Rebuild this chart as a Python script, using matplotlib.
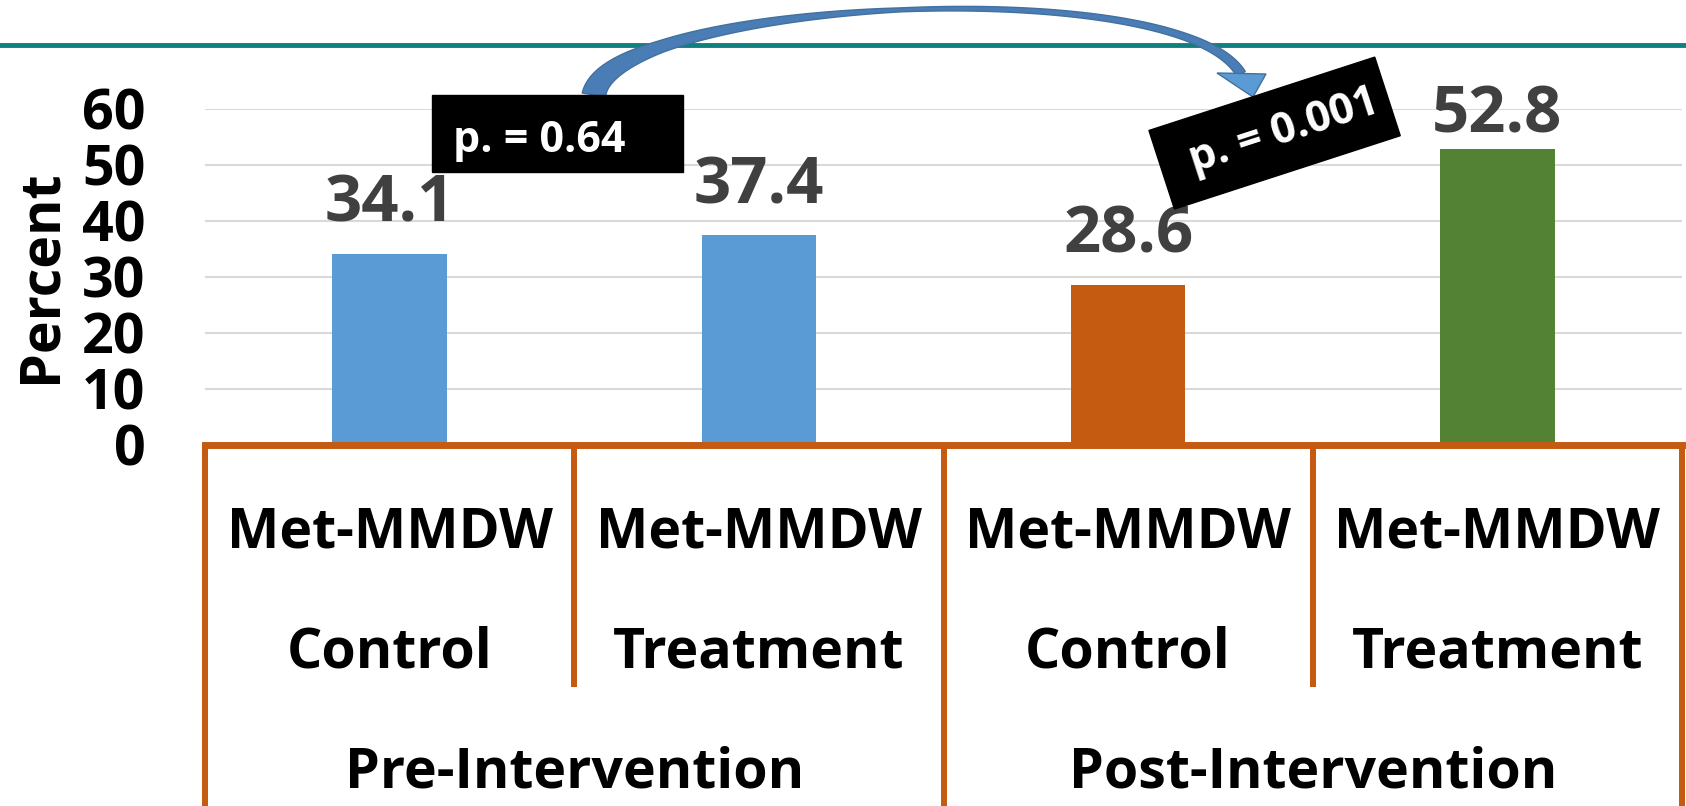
import numpy as np
import matplotlib
matplotlib.use('Agg')
import matplotlib.pyplot as plt
from matplotlib.patches import Rectangle, Polygon
from matplotlib.transforms import blended_transform_factory

plt.rcParams['font.family'] = ['Open Sans', 'DejaVu Sans']
plt.rcParams['font.weight'] = 'bold'

# data
product = 'Met-MMDW'
arms = ['Control', 'Treatment', 'Control', 'Treatment']
groups = ['Pre-Intervention', 'Post-Intervention']
values = [34.1, 37.4, 28.6, 52.8]
bar_colors = ['#5B9BD5', '#5B9BD5', '#C55A11', '#548235']
p_values = ['p. = 0.64', 'p. = 0.001']
yticks = [0, 10, 20, 30, 40, 50, 60]

ORANGE = '#C55A11'
W, H = 1686, 806

fig = plt.figure(figsize=(W / 100, H / 100), dpi=100)
ax = fig.add_axes([205 / W, 1 - 444.7 / H, 1477 / W, 336 / H])
over = fig.add_axes([0, 0, 1, 1])
over.set_xlim(0, W)
over.set_ylim(H, 0)
over.axis('off')

x = np.arange(len(values))
ax.bar(x, values, width=0.31, color=bar_colors, zorder=2)
ax.set_xlim(-0.5, len(values) - 0.5)
ax.set_ylim(0, 60)
ax.set_yticks(yticks)
ax.set_yticklabels([str(t) for t in yticks], fontsize=40, fontweight='bold')
ax.tick_params(axis='y', length=0, pad=43)
ax.set_xticks([])
ax.grid(axis='y', color='#D9D9D9', lw=1.5, zorder=0)
for s in ['left', 'right', 'top']:
    ax.spines[s].set_visible(False)
ax.spines['bottom'].set_color(ORANGE)
ax.spines['bottom'].set_linewidth(5)
ax.spines['bottom'].set_zorder(3)

ax.text(41, 276, 'Percent', transform=over.transData, rotation=90,
        ha='center', va='center', fontsize=40, fontweight='bold')

# value labels
label_off = [23, 23, 23, 12]
for xi, v, off in zip(x, values, label_off):
    ax.annotate(f'{v}', (xi, v), xytext=(0, off), textcoords='offset points',
                ha='center', va='baseline', fontsize=47, fontweight='bold',
                color='#404040')

# category table under the axis
trans = blended_transform_factory(ax.transData, over.transData)
edges = np.arange(len(values) + 1) - 0.5
for i, e in enumerate(edges):
    bottom = H if i % 2 == 0 else 687
    ax.plot([e, e], [444.7, bottom], transform=trans, color=ORANGE, lw=4.3,
            clip_on=False, solid_capstyle='butt')
for xi, arm in zip(x, arms):
    ax.text(xi, 547, product, transform=trans, ha='center', va='baseline',
            fontsize=40, fontweight='bold')
    ax.text(xi, 668, arm, transform=trans, ha='center', va='baseline',
            fontsize=40, fontweight='bold')
for gi, g in enumerate(groups):
    ax.text(2 * gi + 0.5, 788, g, transform=trans, ha='center', va='baseline',
            fontsize=40, fontweight='bold')

# teal rule at the top
over.plot([0, W], [44.5, 44.5], color='#0F7F7F', lw=3.5)

# p-value boxes
over.add_patch(Rectangle((432, 95), 251, 77, color='black', zorder=5))
over.text(453, 152, p_values[0], ha='left', va='baseline', color='white',
          fontsize=31, fontweight='bold', zorder=6)

ang = np.deg2rad(18)
cx, cy, a, b = 1274.6, 133.1, 118.7, 41.3
u = np.array([np.cos(ang), -np.sin(ang)])
n = np.array([np.sin(ang), np.cos(ang)])
c = np.array([cx, cy])
corners = [c - a * u - b * n, c + a * u - b * n, c + a * u + b * n, c - a * u + b * n]
over.add_patch(Polygon(corners, closed=True, color='black', zorder=5))
over.text(1284, 131, p_values[1], rotation=18, rotation_mode='anchor',
          ha='center', va='center', color='white', fontsize=31,
          fontweight='bold', zorder=6)

# curved arrow from the first box to the second
P = np.array([[594, 95], [610, 0], [1180, -30], [1241, 74]], dtype=float)
t = np.linspace(0, 1, 200)[:, None]
pts = (1 - t) ** 3 * P[0] + 3 * (1 - t) ** 2 * t * P[1] + 3 * (1 - t) * t ** 2 * P[2] + t ** 3 * P[3]
d = 3 * (1 - t) ** 2 * (P[1] - P[0]) + 6 * (1 - t) * t * (P[2] - P[1]) + 3 * t ** 2 * (P[3] - P[2])
nrm = np.column_stack([-d[:, 1], d[:, 0]]) / np.linalg.norm(d, axis=1)[:, None]
w = np.interp(t[:, 0], [0, 0.2, 0.5, 0.85, 1], [24, 12, 4, 7, 10])[:, None] / 2
stem = np.vstack([pts + nrm * w, (pts - nrm * w)[::-1]])
over.add_patch(Polygon(stem, closed=True, facecolor='#4A7DB5', edgecolor='#41719C',
                       lw=1, zorder=4))
over.add_patch(Polygon([(1217, 73), (1266, 74), (1253, 97)], closed=True,
                       facecolor='#5B9BD5', edgecolor='#41719C', lw=1, zorder=4))

fig.savefig('out.png', dpi=100)
